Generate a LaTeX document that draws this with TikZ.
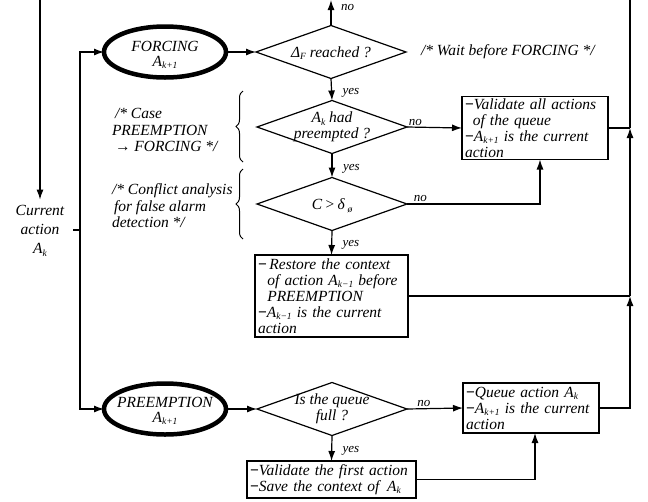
\documentclass[tikz,border=0pt]{standalone}
\usepackage{fontspec}
\setmainfont{Liberation Serif}
\usetikzlibrary{shapes.geometric,arrows.meta,decorations.pathreplacing,calc}
\newcommand{\subx}[1]{\raisebox{-0.35ex}{\fontsize{9.5}{9.5}\selectfont #1}}
\newcommand{\idash}{\textup{\textbf{−}}}
\begin{document}
\begin{tikzpicture}[x=1pt,y=-1pt,
  every node/.style={font=\fontsize{15.5}{16}\selectfont\itshape, inner sep=0pt, outer sep=0pt},
  ln/.style={line width=1.2pt},
  arr/.style={ln,-{Latex[length=10pt,width=7pt]}},
  oval/.style={ellipse, draw, line width=4.5pt, minimum width=122pt, minimum height=51pt},
  dia/.style={diamond, draw, line width=1.2pt, minimum width=150pt, minimum height=53pt},
  box/.style={rectangle, draw, line width=1.2pt, align=left, inner xsep=3pt, inner ysep=1pt},
  lbl/.style={font=\fontsize{13}{13}\selectfont\itshape, inner sep=2pt},
  txt/.style={align=center},
  cmt/.style={align=left, anchor=west},
  brc/.style={decorate, decoration={brace, amplitude=7pt}, line width=1pt}]
\useasboundingbox (0,0) rectangle (648,501);

% left entry
\coordinate (tl) at (40,0);
\node[txt, font=\fontsize{15.5}{19}\selectfont\itshape, inner ysep=6pt] (cur) at (40,231) {Current\\action\\A\subx{k}};
\draw[arr] (tl) -- (cur.north);
\coordinate (tick) at (73,230);
\coordinate (spine) at (80,230);
\draw[ln] (tick) -- (spine);

% FORCING branch
\node[oval] (forc) at (165,52) {};
\node[txt, font=\fontsize{15.5}{14.5}\selectfont\itshape] (forct) at (165,55) {FORCING\\A\subx{k+1}};
\node[dia] (d1) at (331,52) {};
\node (d1t) at (331,53) {Δ\subx{F} reached ?};
\node[cmt] (c1) at (421,52) {/* Wait before FORCING */};
\coordinate (tn) at (331,0);

\node[dia] (d2) at (332,127) {};
\node[txt] (d2t) at (332,127) {A\subx{k} had\\preempted ?};
\node[box, text width=140pt, minimum height=63pt] (valall) at (535,128) {\idash Validate all actions\\\hspace*{0.5em}of the queue\\\idash A\subx{k+1} is the current\\action};

\node[dia] (d3) at (332,204) {};
\node (d3t) at (332,206) {C\,>\,δ\,\subx{ø}};

\node[box, text width=147pt, minimum height=82pt] (restore) at (331.5,296) {\idash\,Restore the context\\\hspace*{0.6em}of action A\subx{k−1} before\\\hspace*{0.6em}PREEMPTION\\\idash A\subx{k−1} is the current\\action};

% comments with braces
\node[cmt, font=\fontsize{15.5}{16.5}\selectfont\itshape] (c2) at (112,130) {\hspace*{3pt}/* Case\\PREEMPTION\\\hspace*{3pt}→ FORCING */};
\coordinate (b1a) at (243,162);
\coordinate (b1b) at (243,91);
\draw[brc] (b1a) -- (b1b);
\node[cmt, font=\fontsize{15.5}{16.5}\selectfont\itshape] (c3) at (112,206) {/* Conflict analysis\\\hspace*{2pt}for false alarm\\detection */};
\coordinate (b2a) at (243,239);
\coordinate (b2b) at (243,169);
\draw[brc] (b2a) -- (b2b);

% PREEMPTION branch
\node[oval] (pre) at (165,409) {};
\node[txt, font=\fontsize{15.5}{14.5}\selectfont\itshape] (pret) at (165,411) {PREEMPTION\\A\subx{k+1}};
\node[dia] (d4) at (332,409) {};
\node[txt] (d4t) at (332,409) {Is the queue\\full ?};
\node[box, text width=130pt, minimum height=50pt] (queue) at (531,408) {\idash Queue action A\subx{k}\\\idash A\subx{k+1} is the current\\action};
\node[box, text width=163pt, minimum height=37pt] (vfirst) at (331.5,479.5) {\idash Validate the first action\\\idash Save the context of\, A\subx{k}};

% right return line
\coordinate (j1) at (630,128);
\coordinate (j2) at (630,296);
\coordinate (tr) at (630,0);

% connectors
\draw[arr] (spine) |- (forc.west);
\draw[arr] (spine) |- (pre.west);
\draw[arr] (forc.east) -- (d1.west);
\draw[arr] (d1.north) -- node[lbl, right, pos=0.7, xshift=8pt]{no} (tn);
\draw[arr] (d1.south) -- node[lbl, right, pos=0.65, xshift=9pt]{yes} (d2.north);
\draw[arr] (d2.east) -- node[lbl, above, pos=0.15]{no} (valall.west);
\draw[arr] (d2.south) -- node[lbl, right, pos=0.65, xshift=9pt]{yes} (d3.north);
\draw[arr] (d3.east) -| node[lbl, above, pos=0.05]{no} ([xshift=5pt]valall.south);
\draw[arr] (d3.south) -- node[lbl, right, pos=0.6, xshift=9pt]{yes} (restore.north);
\draw[ln] (valall.east) -- (j1);
\draw[ln] (restore.east) -- (j2);
\draw[arr] (queue.east) -| (j2);
\draw[arr] (j2) -- (j1);
\draw[ln] (j1) -- (tr);
\draw[arr] (pre.east) -- (d4.west);
\draw[arr] (d4.east) -- node[lbl, above, pos=0.3]{no} (queue.west);
\draw[arr] (d4.south) -- node[lbl, right, pos=0.6, xshift=9pt]{yes} (vfirst.north);
\draw[arr] (vfirst.east) -| ([xshift=4pt]queue.south);
\end{tikzpicture}
\end{document}
